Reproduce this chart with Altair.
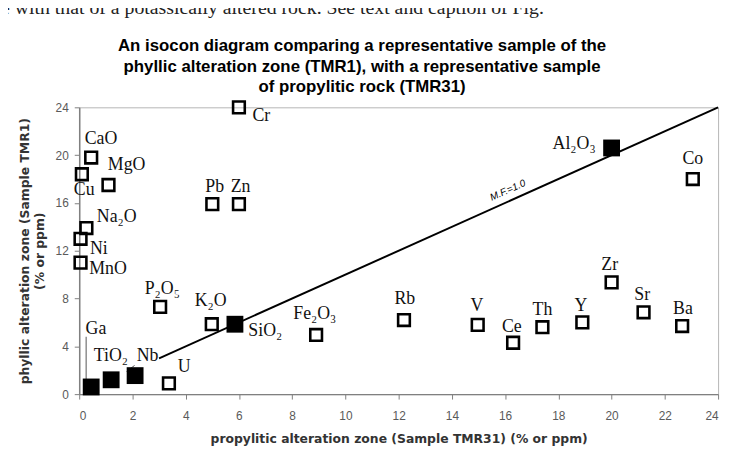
import altair as alt
import pandas as pd

# ---- data ----
elements = ["Cr", "CaO", "Cu", "MgO", "Pb", "Zn", "Na₂O", "Ni", "MnO", "P₂O₅", "K₂O",
            "SiO₂", "Fe₂O₃", "Rb", "V", "Ce", "Th", "Y", "Zr", "Sr", "Ba", "Co",
            "Al₂O₃", "Ga", "TiO₂", "Nb", "U"]
propylitic = [6.0, 0.45, 0.1, 1.1, 5.0, 6.0, 0.27, 0.05, 0.05, 3.04, 4.98,
              5.85, 8.9, 12.2, 14.97, 16.3, 17.4, 18.9, 20.0, 21.2, 22.65, 23.05,
              20.0, 0.45, 1.2, 2.1, 3.37]
phyllic = [24.0, 19.8, 18.4, 17.5, 15.9, 15.9, 13.9, 13.0, 11.0, 7.3, 5.85,
           5.85, 4.95, 6.2, 5.8, 4.3, 5.6, 6.0, 9.35, 6.85, 5.7, 18.0,
           20.6, 0.6, 1.2, 1.55, 0.9]
immobile = [False, False, False, False, False, False, False, False, False, False, False,
            True, False, False, False, False, False, False, False, False, False, False,
            True, True, True, True, False]
# annotation anchor points (data units) for the element labels
label_x = [6.84, 0.82, 0.19, 1.78, 5.09, 6.06, 1.41, 0.74, 1.08, 3.12, 4.94,
           6.99, 8.85, 12.23, 14.94, 16.25, 17.4, 18.85, 19.93, 21.15, 22.68, 23.05,
           18.59, 0.63, 1.19, 2.57, 3.94]
label_y = [23.26, 21.36, 17.05, 19.2, 17.3, 17.3, 14.8, 12.1, 10.5, 8.77, 7.78,
           5.3, 6.7, 7.95, 7.37, 5.63, 7.04, 7.37, 10.76, 8.28, 7.12, 19.7,
           20.94, 5.46, 3.2, 3.2, 2.3]

isocon_x = [3, 24]
isocon_y = [3, 24]
isocon_label = "M.F.=1.0"
isocon_label_pos = (16.1, 17.05)

ga_leader_x = [0.26, 0.26]
ga_leader_y = [4.8, 0.65]
nb_leader_x = [1.78, 2.08]
nb_leader_y = [1.9, 2.4]

x_ticks = list(range(0, 25, 2))
y_ticks = list(range(0, 25, 2))

title_lines = ["An isocon diagram comparing a representative sample of the",
               "phyllic alteration zone (TMR1), with a representative sample",
               "of propylitic rock (TMR31)"]
x_title = "propylitic alteration zone (Sample TMR31)     (% or ppm)"
y_title = ["phyllic alteration zone (Sample TMR1)", "(% or ppm)"]
page_text = "e with that of a potassically altered rock. See text and caption of Fig."

df = pd.DataFrame({"el": elements, "x": propylitic, "y": phyllic,
                   "filled": immobile, "lx": label_x, "ly": label_y})
df_open = df[~df["filled"]]
df_fill = df[df["filled"]]

xs = alt.Scale(domain=[0, 24], nice=False, zero=False)
ys = alt.Scale(domain=[0, 24], nice=False, zero=False)

X = alt.X("x:Q", scale=xs, axis=alt.Axis(values=x_ticks, title=x_title, titlePadding=11,
                                         labelPadding=12, format="d"))
Y = alt.Y("y:Q", scale=ys, axis=alt.Axis(values=y_ticks, title=y_title, titlePadding=9,
                                         labelPadding=6, format="d", titleLineHeight=15))

line = alt.Chart(pd.DataFrame({"x": isocon_x, "y": isocon_y})).mark_line(
    color="black", strokeWidth=2).encode(x=X, y=Y)

leaders = alt.Chart(pd.DataFrame({"x": [ga_leader_x[0], nb_leader_x[0]],
                                  "y": [ga_leader_y[0], nb_leader_y[0]],
                                  "x2": [ga_leader_x[1], nb_leader_x[1]],
                                  "y2": [ga_leader_y[1], nb_leader_y[1]]})).mark_rule(
    color="#555", strokeWidth=1).encode(x=X, y=Y, x2="x2:Q", y2="y2:Q")

open_pts = alt.Chart(df_open).mark_point(
    shape="square", filled=False, stroke="black", strokeWidth=2.6, size=140, opacity=1
).encode(x=X, y=Y)

fill_pts = alt.Chart(df_fill).mark_point(
    shape="square", filled=True, color="black", size=290, opacity=1
).encode(x=X, y=Y)

labels = alt.Chart(df).mark_text(
    font="Liberation Serif", fontSize=18, color="#111", align="center", baseline="middle"
).encode(x=alt.X("lx:Q", scale=xs), y=alt.Y("ly:Q", scale=ys), text="el:N")

mf = alt.Chart(pd.DataFrame({"x": [isocon_label_pos[0]], "y": [isocon_label_pos[1]],
                             "t": [isocon_label]})).mark_text(
    font="Liberation Sans", fontSize=10, fontStyle="italic", angle=336, color="black"
).encode(x=alt.X("x:Q", scale=xs), y=alt.Y("y:Q", scale=ys), text="t:N")

scrap = alt.Chart(pd.DataFrame({"t": [page_text]})).mark_text(
    font="Liberation Serif", fontSize=20, align="left", baseline="alphabetic", color="#222"
).encode(x=alt.value(-79), y=alt.value(-94), text="t:N")

title = alt.Chart(pd.DataFrame({"t": ["\n".join(title_lines)]})).mark_text(
    font="Liberation Sans", fontSize=17, fontWeight="bold", align="center",
    baseline="middle", lineBreak="\n", lineHeight=21, color="black"
).encode(x=alt.value(286), y=alt.value(-62), text="t:N")

chart = alt.layer(line, leaders, open_pts, fill_pts, labels, mf, scrap, title).properties(
    width=646, height=290,
    autosize=alt.AutoSizeParams(type="none"),
    padding={"left": 72, "top": 98, "right": 8, "bottom": 50},
).configure_view(stroke="#b5b5b5", strokeWidth=1).configure_axis(
    grid=False, domainColor="#808080", domainWidth=1.5, tickColor="#808080",
    tickSize=5, tickWidth=1, labelColor="#5a5a5a", labelFont="Liberation Sans",
    labelFontSize=12, titleFont="DejaVu Sans", titleFontSize=12.5,
    titleFontWeight="bold", titleColor="#333"
)

chart.save("out.html", embed_options={"renderer": "svg", "actions": False})
